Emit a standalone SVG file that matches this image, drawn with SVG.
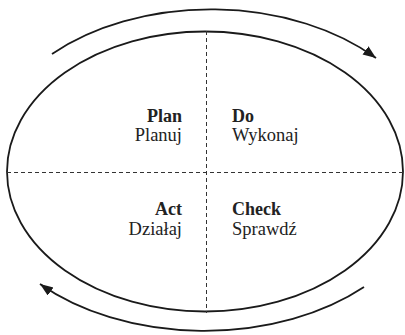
<svg xmlns="http://www.w3.org/2000/svg" width="405" height="335" viewBox="0 0 405 335">
<defs>
<marker id="ah" markerUnits="userSpaceOnUse" markerWidth="14" markerHeight="11" refX="13" refY="5" orient="auto">
<path d="M0,0 L13,5 L0,10 z" fill="#1a1a1a"/>
</marker>
<style>
.outline{fill:none;stroke:#1a1a1a;stroke-width:1.8}
.dash{fill:none;stroke:#333;stroke-width:1;stroke-dasharray:4 3}
.arc{fill:none;stroke:#1a1a1a;stroke-width:1.8;marker-end:url(#ah)}
.b{font-family:"Liberation Serif","Times New Roman",serif;font-weight:bold;font-size:18px;fill:#222}
.r{font-family:"Liberation Serif","Times New Roman",serif;font-size:18.5px;fill:#222}
.e{text-anchor:end}
</style>
</defs>
<rect width="405" height="335" fill="#fff"/>
<g id="cycle">
<ellipse class="outline" cx="205" cy="171.5" rx="198" ry="140"/>
<line class="dash" x1="7" y1="172.5" x2="403" y2="172.5"/>
<line class="dash" x1="206.5" y1="31" x2="206.5" y2="313"/>
</g>
<g id="connectors">
<path class="arc" d="M52,54 A225,152 0 0 1 376,58"/>
<path class="arc" d="M364,287 A225,148 0 0 1 40,284"/>
</g>
<g id="plan"><text class="b e" x="182" y="121.5">Plan</text><text class="r e" x="182" y="141">Planuj</text></g>
<g id="do"><text class="b" x="232" y="121.5">Do</text><text class="r" x="232" y="141">Wykonaj</text></g>
<g id="act"><text class="b e" x="182" y="215">Act</text><text class="r e" x="182" y="234.5">Działaj</text></g>
<g id="check"><text class="b" x="232" y="215">Check</text><text class="r" x="232" y="234.5">Sprawdź</text></g>
</svg>
